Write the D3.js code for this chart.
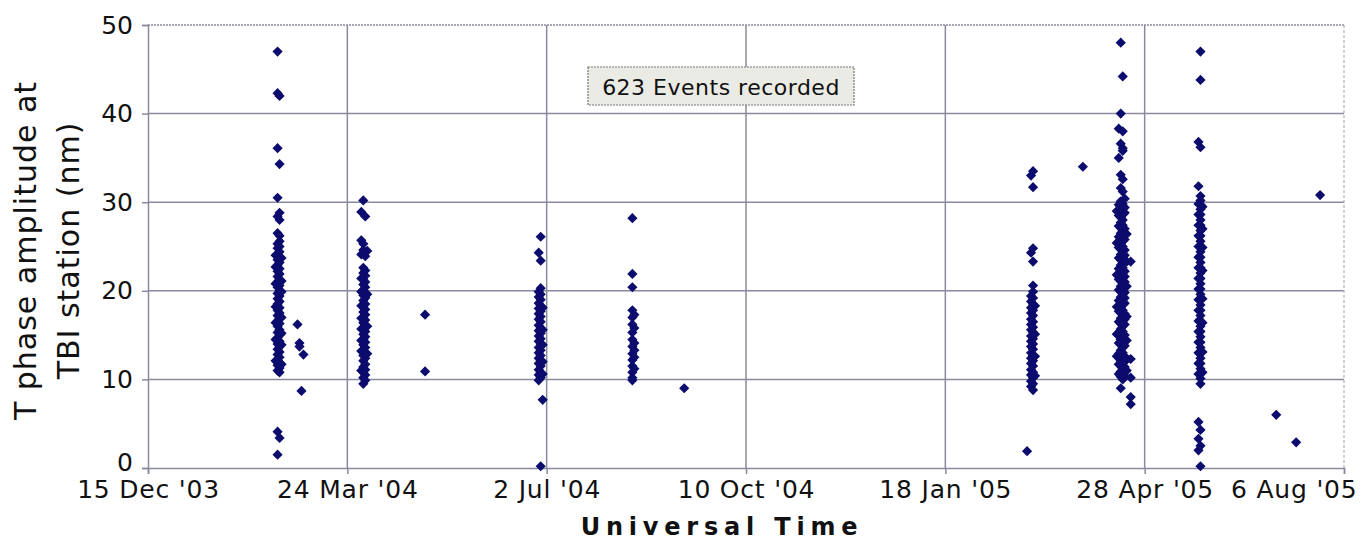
<!DOCTYPE html>
<html>
<head>
<meta charset="utf-8">
<script src="https://cdn.jsdelivr.net/npm/d3@7"></script>
<style>
  body { margin: 0; background: #fff; }
  svg text { font-family: "DejaVu Sans", sans-serif; fill: #111; }
</style>
</head>
<body>
<div class="vis-scatter"></div>
<script>
// amplitudes (nm), grouped by event day
const feb17_04 = [24.0, 22.7, 20.8, 18.2, 16.4, 14.5, 12.1];
const feb18_04 = [47.0, 42.3, 36.1, 30.5, 28.4, 26.5, 25.3, 24.8, 24.1, 23.5, 22.9, 22.2, 21.6, 21.0, 20.4, 19.7, 19.1, 18.5, 17.8, 17.2, 16.6, 16.0, 15.3, 14.7, 14.0, 13.4, 12.8, 12.2, 11.6, 11.0, 4.1, 1.5];
const feb19_04 = [42.0, 34.3, 28.8, 28.0, 26.2, 25.6, 25.0, 24.4, 23.8, 23.2, 22.5, 21.9, 21.3, 20.6, 20.0, 19.4, 18.8, 18.1, 17.5, 16.9, 16.3, 15.6, 15.0, 14.3, 13.7, 13.1, 12.5, 11.9, 11.3, 10.8, 3.4];
const feb20_04 = [23.7, 21.1, 19.9, 17.0, 15.2, 13.9, 11.7];
const feb28_04 = [16.2];
const feb29_04 = [14.1, 13.7];
const mar01_04 = [8.7];
const mar02_04 = [12.8];
const mar31_04 = [28.9, 25.7, 24.1, 21.4, 19.9, 18.3, 16.9, 15.7, 14.4, 13.2, 11.0];
const apr01_04 = [30.2, 25.3, 24.6, 22.6, 22.0, 21.3, 20.7, 20.1, 19.5, 18.9, 18.2, 17.6, 17.0, 16.4, 15.8, 15.1, 14.5, 13.9, 13.3, 12.7, 12.1, 11.4, 10.8, 10.2, 9.5];
const apr02_04 = [28.4, 23.9, 22.3, 21.7, 21.0, 20.4, 19.8, 19.2, 18.5, 17.9, 17.3, 16.7, 16.1, 15.4, 14.8, 14.2, 13.6, 13.0, 12.4, 11.7, 11.1, 10.5, 9.9];
const apr03_04 = [24.5, 19.6, 16.0, 12.9];
const may02_04 = [17.3, 10.9];
const jun28_04 = [24.3, 19.9, 19.3, 18.6, 18.0, 17.4, 16.8, 16.1, 15.5, 14.9, 14.3, 13.6, 13.0, 12.4, 11.8, 11.1, 10.5, 9.9];
const jun29_04 = [26.1, 23.4, 20.3, 19.6, 19.0, 18.3, 17.7, 17.1, 16.5, 15.8, 15.2, 14.6, 14.0, 13.3, 12.7, 12.1, 11.5, 10.8, 10.2, 0.2];
const jun30_04 = [18.1, 15.6, 13.9, 12.0, 10.6, 7.7];
const aug14_04 = [28.2, 21.9, 20.4, 17.8, 17.0, 16.2, 15.3, 14.5, 13.7, 12.9, 12.2, 11.5, 10.8, 10.2, 9.9];
const aug15_04 = [17.3, 15.8, 14.1, 13.3, 12.5, 11.2];
const sep09_04 = [9.0];
const feb28_05 = [1.9];
const mar02_05 = [33.0, 24.3, 19.4, 18.8, 18.1, 17.5, 16.8, 16.2, 15.6, 14.9, 14.3, 13.7, 13.0, 12.4, 11.8, 11.1, 10.5, 9.8, 9.2];
const mar03_05 = [33.5, 31.7, 24.8, 23.3, 20.6, 19.9, 19.2, 18.5, 17.8, 17.2, 16.5, 15.9, 15.3, 14.6, 14.0, 13.4, 12.7, 12.1, 11.5, 10.8, 10.2, 9.5, 8.8];
const mar04_05 = [18.3, 15.1, 12.6, 10.4];
const mar28_05 = [34.0];
const apr14_05 = [29.0, 25.4, 21.8, 18.2, 15.1, 12.6];
const apr15_05 = [38.3, 35.0, 29.7, 28.5, 27.3, 26.1, 24.9, 23.7, 22.5, 21.3, 20.1, 18.9, 17.7, 16.5, 15.3, 14.1, 12.9, 11.7, 10.6];
const apr16_05 = [48.0, 40.0, 36.6, 33.1, 31.6, 30.1, 29.5, 28.9, 28.3, 27.7, 27.1, 26.5, 25.9, 25.3, 24.7, 24.1, 23.5, 22.9, 22.3, 21.7, 21.1, 20.5, 19.9, 19.3, 18.7, 18.1, 17.5, 16.9, 16.3, 15.7, 15.1, 14.5, 13.9, 13.3, 12.7, 12.1, 11.5, 10.9, 10.3, 9.0];
const apr17_05 = [44.2, 38.0, 36.1, 35.8, 32.6, 31.2, 29.8, 29.2, 28.6, 28.0, 27.4, 26.8, 26.2, 25.6, 25.0, 24.4, 23.8, 23.2, 22.6, 22.0, 21.4, 20.8, 20.2, 19.6, 19.0, 18.4, 17.8, 17.2, 16.6, 16.0, 15.4, 14.8, 14.2, 13.6, 13.0, 12.4, 11.8, 11.2, 10.6, 10.0];
const apr18_05 = [30.4, 29.4, 28.8, 27.0, 26.4, 25.8, 24.6, 24.0, 23.4, 22.2, 21.6, 21.0, 19.8, 19.2, 18.6, 17.4, 16.8, 16.2, 15.0, 14.4, 13.8, 12.6, 12.0, 11.4, 10.4];
const apr19_05 = [26.4, 23.3, 20.5, 17.1, 14.4, 11.0];
const apr21_05 = [23.3, 12.3, 10.2, 8.0, 7.2];
const may25_05 = [36.8, 31.8, 29.8, 28.6, 27.4, 26.2, 25.0, 23.8, 22.6, 21.4, 20.2, 19.0, 17.8, 16.6, 15.4, 14.2, 13.0, 11.8, 10.6, 5.2, 3.3, 2.0];
const may26_05 = [47.0, 43.8, 36.2, 30.7, 30.2, 29.7, 29.2, 28.6, 28.0, 27.4, 26.8, 26.2, 25.6, 25.0, 24.4, 23.8, 23.2, 22.6, 22.0, 21.4, 20.8, 20.2, 19.6, 19.0, 18.4, 17.8, 17.2, 16.6, 16.0, 15.4, 14.8, 14.2, 13.6, 13.0, 12.4, 11.8, 11.2, 10.6, 10.1, 9.5, 4.3, 2.5, 0.2];
const may27_05 = [29.5, 27.0, 24.9, 22.3, 19.1, 16.4, 13.1, 10.8];
const jul03_05 = [6.0];
const jul13_05 = [2.9];
const jul25_05 = [30.8];

const eventDays = [
    ["2004-02-17", feb17_04], ["2004-02-18", feb18_04], ["2004-02-19", feb19_04], ["2004-02-20", feb20_04],
    ["2004-02-28", feb28_04], ["2004-02-29", feb29_04], ["2004-03-01", mar01_04], ["2004-03-02", mar02_04],
    ["2004-03-31", mar31_04], ["2004-04-01", apr01_04], ["2004-04-02", apr02_04], ["2004-04-03", apr03_04],
    ["2004-05-02", may02_04], ["2004-06-28", jun28_04], ["2004-06-29", jun29_04], ["2004-06-30", jun30_04],
    ["2004-08-14", aug14_04], ["2004-08-15", aug15_04], ["2004-09-09", sep09_04],
    ["2005-02-28", feb28_05], ["2005-03-02", mar02_05], ["2005-03-03", mar03_05], ["2005-03-04", mar04_05],
    ["2005-03-28", mar28_05], ["2005-04-14", apr14_05], ["2005-04-15", apr15_05], ["2005-04-16", apr16_05],
    ["2005-04-17", apr17_05], ["2005-04-18", apr18_05], ["2005-04-19", apr19_05], ["2005-04-21", apr21_05],
    ["2005-05-25", may25_05], ["2005-05-26", may26_05], ["2005-05-27", may27_05],
    ["2005-07-03", jul03_05], ["2005-07-13", jul13_05], ["2005-07-25", jul25_05]
];

const xTickDates = ["2003-12-15", "2004-03-24", "2004-07-02", "2004-10-10", "2005-01-18", "2005-04-28", "2005-08-06"];
const yTicks = [0, 10, 20, 30, 40, 50];
const noteText = "623 Events recorded";

const parse = d3.utcParse("%Y-%m-%d");
const data = [];
eventDays.forEach(function(e) {
    e[1].forEach(function(v) { data.push({date: parse(e[0]), amp: v}); });
});

const margin = {top: 25, right: 17, bottom: 73, left: 148};
const W = 1361, H = 541;
const width = W - margin.left - margin.right;
const height = H - margin.top - margin.bottom;
const gridColor = "#8a8a9e";

let svg = d3.select('.vis-scatter').append('svg')
        .attr('width', W)
        .attr('height', H)
        .append("g")
        .attr("transform", "translate(" + margin.left + "," + margin.top + ")");

var x = d3.scaleUtc()
    .domain([parse(xTickDates[0]), parse(xTickDates[xTickDates.length - 1])])
    .range([0, width]);
var y = d3.scaleLinear()
    .domain([0, 50])
    .range([height, 0]);

// horizontal grid
svg.append("g")
    .selectAll("line")
    .data(yTicks.filter(function(d) { return d > 0 && d < 50; }))
    .enter().append("line")
    .attr("x1", 0).attr("x2", width)
    .attr("y1", function(d) { return y(d); })
    .attr("y2", function(d) { return y(d); })
    .attr("stroke", gridColor)
    .attr("stroke-width", 1.5);

// top edge (dotted) and right edge (dashed)
svg.append("line")
    .attr("x1", 0).attr("x2", width).attr("y1", y(50)).attr("y2", y(50))
    .attr("stroke", gridColor).attr("stroke-width", 1.5).attr("stroke-dasharray", "2,1");
svg.append("line")
    .attr("x1", width).attr("x2", width).attr("y1", 0).attr("y2", height)
    .attr("stroke", "#b0b0bc").attr("stroke-width", 1.2).attr("stroke-dasharray", "3,2");

// vertical grid
svg.append("g")
    .selectAll("line")
    .data(xTickDates.slice(1, -1).map(parse))
    .enter().append("line")
    .attr("x1", function(d) { return x(d); })
    .attr("x2", function(d) { return x(d); })
    .attr("y1", 0).attr("y2", height)
    .attr("stroke", gridColor)
    .attr("stroke-width", 1.5);

// x axis
var xAxis = svg.append("g")
    .attr("transform", "translate(0," + height + ")")
    .call(d3.axisBottom(x)
        .tickValues(xTickDates.map(parse))
        .tickFormat(d3.utcFormat("%-d %b '%y"))
        .tickSize(6)
        .tickPadding(6));
xAxis.select(".domain").attr("stroke", gridColor).attr("stroke-width", 1.5);
xAxis.selectAll(".tick line").attr("stroke", gridColor).attr("stroke-width", 1.5);
xAxis.selectAll("text")
    .style("font-size", "25px")
    .style("letter-spacing", "0.8px")
    .attr("fill", "#111");
// last label is pushed inside the picture, as in the original
xAxis.selectAll(".tick:last-of-type text")
    .attr("text-anchor", "end")
    .attr("x", 13);

// y axis
var yAxis = svg.append("g")
    .call(d3.axisLeft(y)
        .tickValues(yTicks)
        .tickSize(6)
        .tickPadding(9));
yAxis.select(".domain").attr("stroke", gridColor).attr("stroke-width", 1.5);
yAxis.selectAll(".tick line").attr("stroke", gridColor).attr("stroke-width", 1.5);
yAxis.selectAll("text").style("font-size", "25px").attr("fill", "#111");
yAxis.selectAll(".tick:first-of-type text").attr("dy", "0.08em");

// annotation
var note = svg.append("g").attr("transform", "translate(" + (588 - margin.left) + "," + (67 - margin.top) + ")");
note.append("rect")
    .attr("width", 266).attr("height", 38)
    .attr("fill", "#ebebe6")
    .attr("stroke", "#777")
    .attr("stroke-width", 1.2)
    .attr("stroke-dasharray", "2,1");
note.append("text")
    .attr("x", 133).attr("y", 28)
    .attr("text-anchor", "middle")
    .style("font-size", "22px")
    .style("letter-spacing", "0.5px")
    .text(noteText);

// points
svg.append("g")
    .selectAll("path")
    .data(data)
    .enter().append("path")
    .attr("d", d3.symbol(d3.symbolSquare, 52))
    .attr("transform", function(d) { return "translate(" + x(d.date) + "," + y(d.amp) + ") rotate(45)"; })
    .attr("fill", "#0c0c6e");

// axis titles
svg.append("text")
    .attr("x", 719 - margin.left + 3)
    .attr("y", 535 - margin.top)
    .attr("text-anchor", "middle")
    .style("font-size", "24px")
    .style("font-weight", "bold")
    .style("letter-spacing", "5.8px")
    .text("Universal Time");

var yt = svg.append("text")
    .attr("transform", "translate(" + (-margin.left) + "," + (height / 2 + 4) + ") rotate(-90)")
    .attr("text-anchor", "middle")
    .style("font-size", "30px")
    .style("letter-spacing", "1px");
yt.append("tspan").attr("x", 0).attr("y", 36).text("T phase amplitude at");
yt.append("tspan").attr("x", 0).attr("y", 79).text("TBI station (nm)");
</script>
</body>
</html>
